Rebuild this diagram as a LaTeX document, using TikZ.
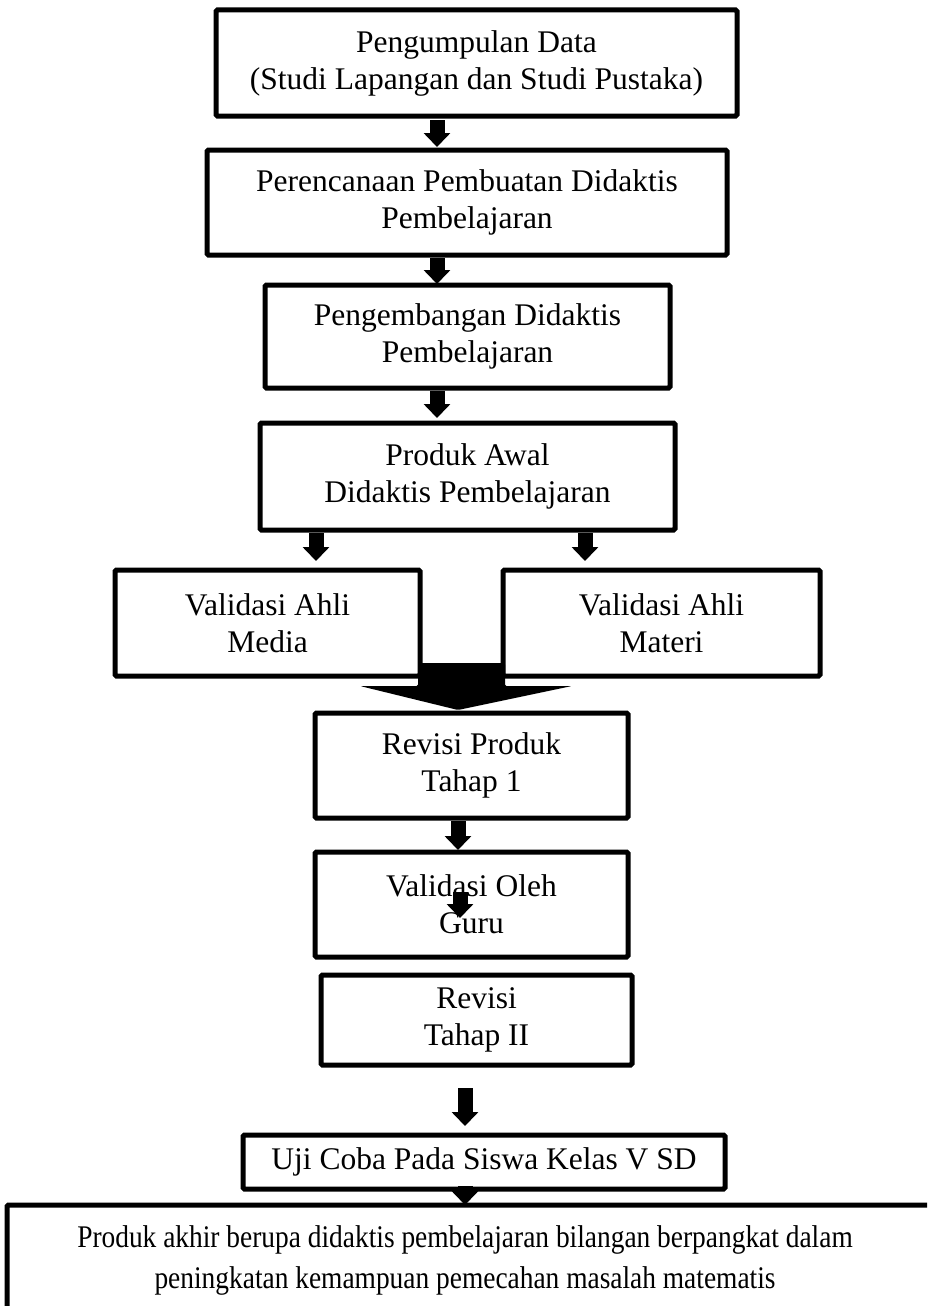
\documentclass[tikz,border=0pt]{standalone}
\usepackage{fontspec}
\setmainfont{Liberation Serif}
\newfontfamily\condfont[FakeStretch=0.87]{Liberation Serif}
\usetikzlibrary{arrows.meta}
\begin{document}
\begin{tikzpicture}[x=1pt,y=-1pt,
  box/.style={draw, line width=5pt, rounded corners=1.5pt, inner sep=0pt},
  lbl/.style={align=center, font=\fontsize{31.5}{37}\selectfont, inner sep=0pt},
  flow/.style={line width=15pt, -{Triangle[width=26pt,length=14pt]}},
]
\useasboundingbox (0,0) rectangle (927,1306);
\clip (0,0) rectangle (927,1306);

% boxes
\node[box, minimum width=521pt, minimum height=106pt] (b1) at (476.5,63) {};
\node[lbl] (t1) at (b1.center) {Pengumpulan Data\\(Studi Lapangan dan Studi Pustaka)};
\node[box, minimum width=520pt, minimum height=105pt] (b2) at (467,202.5) {};
\node[lbl] (t2) at (b2.center) {Perencanaan Pembuatan Didaktis\\Pembelajaran};
\node[box, minimum width=405pt, minimum height=103pt] (b3) at (467.5,336.5) {};
\node[lbl] (t3) at (b3.center) {Pengembangan Didaktis\\Pembelajaran};
\node[box, minimum width=415pt, minimum height=107pt] (b4) at (467.5,476.5) {};
\node[lbl] (t4) at (b4.center) {Produk Awal\\Didaktis Pembelajaran};
\node[box, minimum width=305pt, minimum height=106pt] (bm) at (267.5,623) {};
\node[lbl] (tm) at (bm.center) {Validasi Ahli\\Media};
\node[box, minimum width=317pt, minimum height=106pt] (bt) at (661.5,623) {};
\node[lbl] (tt) at (bt.center) {Validasi Ahli\\Materi};
\node[box, minimum width=313pt, minimum height=105pt] (b5) at (471.5,765.5) {};
\node[lbl] (t5) at (b5.center) {Revisi Produk\\Tahap 1};
\node[box, minimum width=313pt, minimum height=105pt] (b6) at (471.5,904.5) {};
\node[lbl] (t6) at (b6.center) {Validasi Oleh\\Guru};
\node[box, minimum width=311pt, minimum height=90pt] (b7) at (476.5,1020) {};
\node[lbl] (t7) at (b7.center) {Revisi\\Tahap II};
\node[box, minimum width=482pt, minimum height=54pt] (b8) at (484,1162) {};
\node[lbl] (t8) at (b8.center) {Uji Coba Pada Siswa Kelas V SD};
\node[box, minimum width=1000pt, minimum height=200pt] (b9) at (507,1305) {};
\node[lbl, font=\condfont\fontsize{31.5}{41}\selectfont] (t9) at (465,1260) {Produk akhir berupa didaktis pembelajaran bilangan berpangkat dalam\\peningkatan kemampuan pemecahan masalah matematis};

% arrows
\coordinate (a1s) at (437,120);  \coordinate (a1e) at (437,147);
\coordinate (a2s) at (437,258);  \coordinate (a2e) at (437,284);
\coordinate (a3s) at (437,391);  \coordinate (a3e) at (437,418);
\coordinate (a4s) at (316,533);  \coordinate (a4e) at (316,561);
\coordinate (a5s) at (585,533);  \coordinate (a5e) at (585,561);
\coordinate (a6s) at (458,821);  \coordinate (a6e) at (458,850);
\coordinate (a7s) at (460,892);  \coordinate (a7e) at (460,918);
\coordinate (a8s) at (465,1088); \coordinate (a8e) at (465,1126);
\coordinate (a9s) at (465,1186); \coordinate (a9e) at (465,1205);
\foreach \i in {1,...,9} {\draw[flow] (a\i s) -- (a\i e);}

% big merge arrow
\fill[rounded corners=1.5pt] (418,663) -- (505,663) -- (505,686) -- (572,686)
  -- (458,710) -- (360,686) -- (418,686) -- cycle;
\end{tikzpicture}
\end{document}
